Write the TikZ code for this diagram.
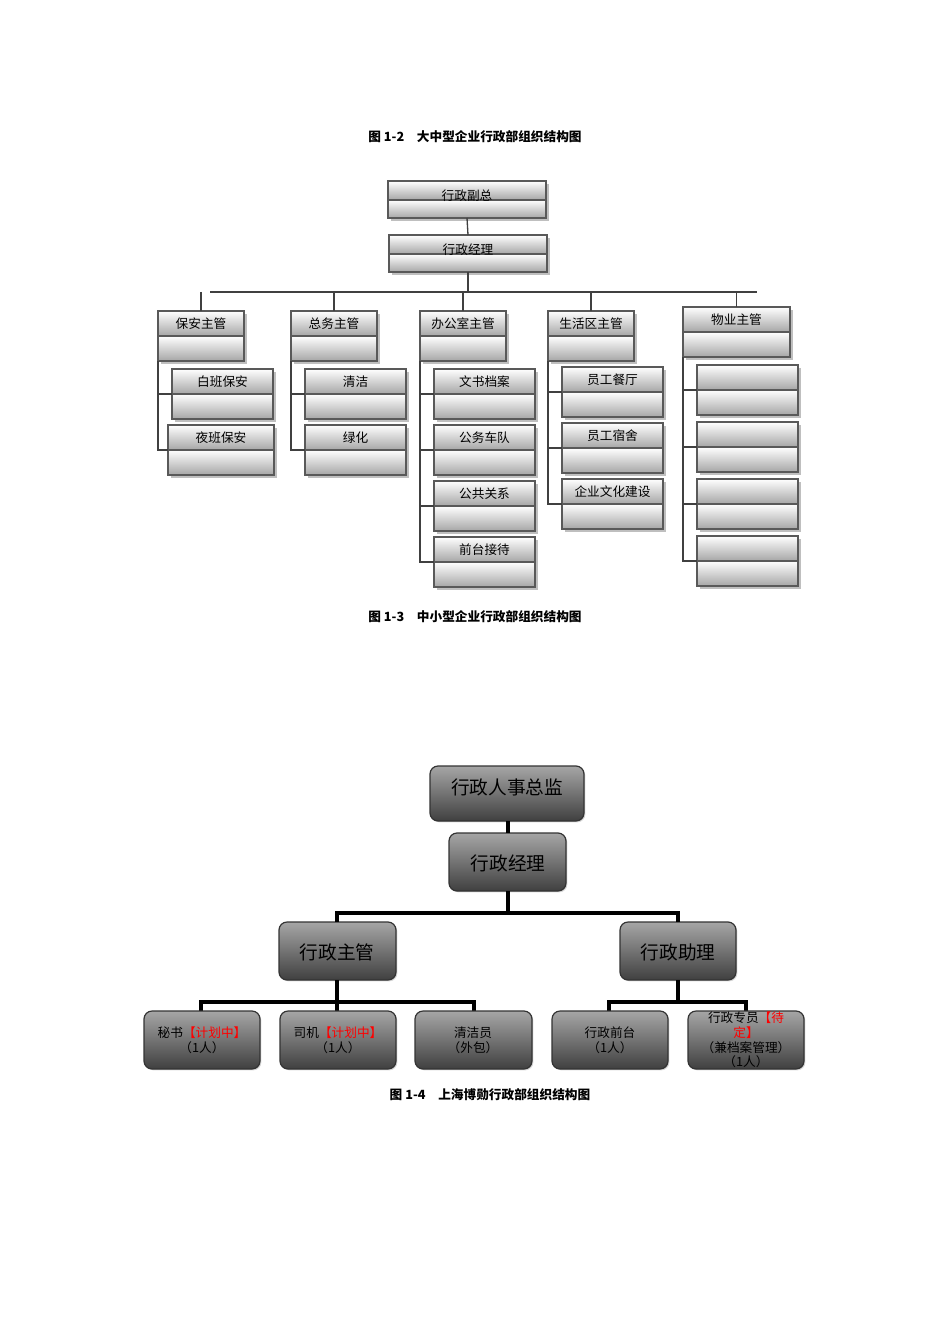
\documentclass[tikz,border=0pt]{standalone}
\usepackage{fontspec}
\setmainfont{Noto Sans CJK SC}
\usetikzlibrary{shadows}
\newcommand{\twobox}[7]{%
 \fill[black!25] (#2+3,#4+3) rectangle (#3+3,#6+3);
 \draw[half] (#2,#4) rectangle (#3,#5);
 \draw[half] (#2,#5) rectangle (#3,#6);
 \node[tt] (#1) at ({(#2+#3)/2},{(#4+#5)/2}) {#7};
 \coordinate (#1-l) at (#2,#5);
 \coordinate (#1-t) at ({(#2+#3)/2},#4);
 \coordinate (#1-b) at ({(#2+#3)/2},#6);
}
\begin{document}
\begin{tikzpicture}[x=0.75pt,y=-0.75pt,
 half/.style={draw=black!65,line width=1pt,top color=white,bottom color=black!35},
 tline/.style={draw=black!75,line width=1pt},
 tt/.style={font=\fontsize{9.5pt}{11pt}\selectfont,anchor=center},
 rbox/.style={draw=black!80,line width=0.9pt,rounded corners=6pt,top color=black!35,bottom color=black!75,drop shadow={opacity=0.3,shadow xshift=1pt,shadow yshift=-1pt}},
 bline/.style={draw=black,line width=2.6pt},
 captxt/.style={font=\bfseries\fontsize{9.5pt}{11pt}\selectfont}]
\useasboundingbox (0,0) rectangle (950,1344);
\node[captxt] (cap2) at (475,137) {图 1-2\quad 大中型企业行政部组织结构图};
\twobox{vp}{388}{546}{181}{200}{218}{}
\node[tt] (vpt) at (467,196) {行政副总};
\twobox{mg}{389}{547}{235}{254}{272}{}
\node[tt] (mgt) at (468,250) {行政经理};
\draw[tline] (vp-b) -- (mg-t);
\coordinate (bus) at (468,292);
\draw[tline] (mg-b) -- (bus);
\draw[tline] (210,292) -- (757,292);
\twobox{m1}{158}{244}{311}{336}{361}{保安主管}
\twobox{m2}{291}{377}{311}{336}{361}{总务主管}
\twobox{m3}{420}{506}{311}{336}{361}{办公室主管}
\twobox{m4}{548}{634}{311}{336}{361}{生活区主管}
\twobox{m5}{683}{790}{307}{332}{357}{物业主管}
\foreach \x/\n in {201/m1,334/m2,463/m3,591/m4,736.5/m5}{\draw[tline] (\x,292) -- (\n-t);}
\twobox{a1}{172}{273}{369}{394}{419}{白班保安}
\twobox{a2}{168}{274}{425}{450}{475}{夜班保安}
\draw[tline] (158,361) |- (a2-l); \draw[tline] (158,394) -- (a1-l);
\twobox{b1}{305}{406}{369}{394}{419}{清洁}
\twobox{b2}{305}{406}{425}{450}{475}{绿化}
\draw[tline] (291,361) |- (b2-l); \draw[tline] (291,394) -- (b1-l);
\twobox{c1}{434}{535}{369}{394}{419}{文书档案}
\twobox{c2x}{434}{535}{425}{450}{475}{公务车队}
\twobox{c3}{434}{535}{481}{506}{531}{公共关系}
\twobox{c4}{434}{535}{537}{562}{587}{前台接待}
\draw[tline] (420,361) |- (c4-l);
\foreach \n in {c1,c2x,c3}{\draw[tline] (420,0 |- \n-l) -- (\n-l);}
\twobox{d1}{562}{663}{367}{392}{417}{员工餐厅}
\twobox{d2}{562}{663}{423}{448}{473}{员工宿舍}
\twobox{d3}{562}{663}{479}{504}{529}{企业文化建设}
\draw[tline] (548,361) |- (d3-l);
\foreach \n in {d1,d2}{\draw[tline] (548,0 |- \n-l) -- (\n-l);}
\twobox{e1}{697}{798}{365}{390}{415}{}
\twobox{e2}{697}{798}{422}{447}{472}{}
\twobox{e3}{697}{798}{479}{504}{529}{}
\twobox{e4}{697}{798}{536}{561}{586}{}
\draw[tline] (683,357) |- (e4-l);
\foreach \n in {e1,e2,e3}{\draw[tline] (683,0 |- \n-l) -- (\n-l);}
\node[captxt] (cap3) at (475,617) {图 1-3\quad 中小型企业行政部组织结构图};
\tikzset{big/.style={font=\fontsize{14pt}{16pt}\selectfont},sm/.style={font=\fontsize{9.5pt}{11pt}\selectfont,align=center}}
\draw[rbox] (430,766) rectangle (584,821); \node[big] (z) at (507,787) {行政人事总监};
\draw[rbox] (449,833) rectangle (566,891); \node[big] (j) at (508,863) {行政经理};
\draw[rbox] (279,922) rectangle (396,980); \node[big] (p1) at (337,952) {行政主管};
\draw[rbox] (620,922) rectangle (736,980); \node[big] (p2) at (678,952) {行政助理};
\draw[bline] (508,821) -- (508,833);
\draw[bline] (508,891) -- (508,913);
\draw[bline] (337,922) |- (678,913) -- (678,922);
\draw[bline] (337,980) -- (337,1002);
\draw[bline] (201,1011) |- (474,1002) -- (474,1011);
\draw[bline] (337,1002) -- (337,1011);
\draw[bline] (678,980) -- (678,1002);
\draw[bline] (609,1011) |- (746,1002) -- (746,1011);
\foreach \a/\b in {144/260,280/396,415/532,552/668,688/804}{\draw[rbox] (\a,1011) rectangle (\b,1069);}
\node[sm] (q1) at (202,1040) {秘书\textcolor{red}{【计划中】}\\（1人）};
\node[sm] (q2) at (338,1040) {司机\textcolor{red}{【计划中】}\\（1人）};
\node[sm] (q3) at (473,1040) {清洁员\\（外包）};
\node[sm] (q4) at (610,1040) {行政前台\\（1人）};
\node[sm,inner sep=0pt] (q5) at (746,1040) {行政专员\textcolor{red}{【待}\\\textcolor{red}{定】}\\（兼档案管理）\\（1人）};
\node[captxt] (cap4) at (490,1095) {图 1-4\quad 上海博勋行政部组织结构图};
\end{tikzpicture}
\end{document}
